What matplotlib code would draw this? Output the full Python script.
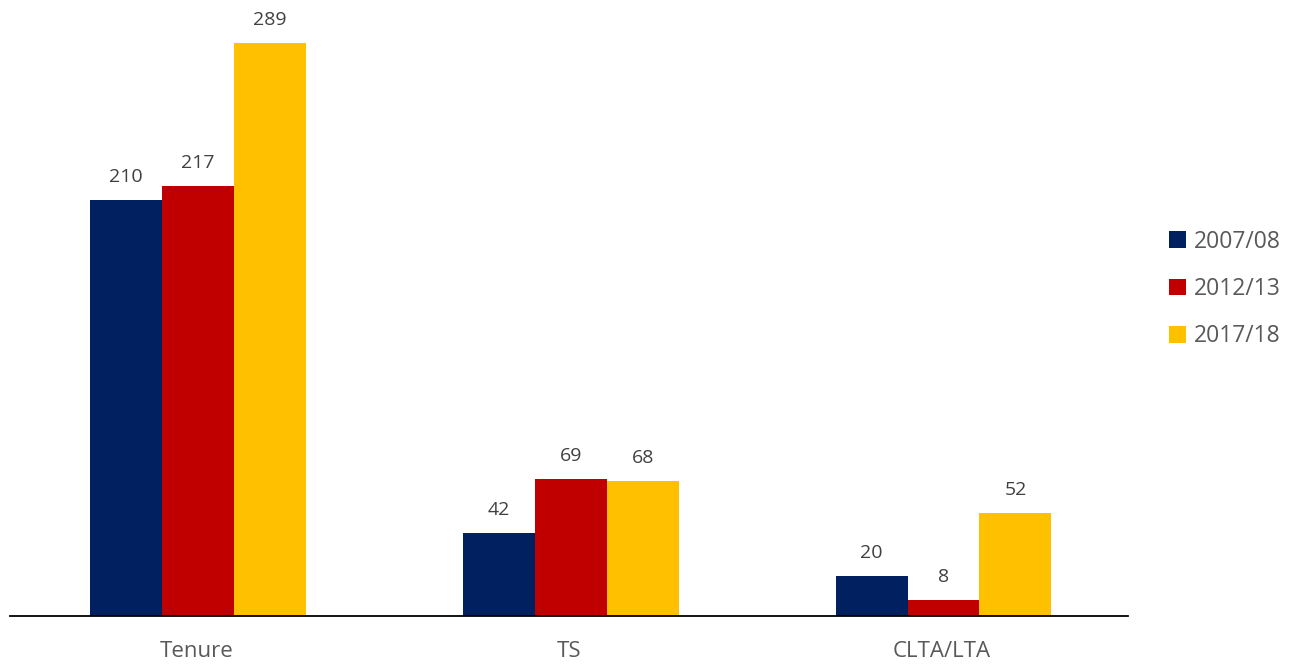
import matplotlib
matplotlib.use('Agg')
import matplotlib.pyplot as plt
import numpy as np

# データ
categories = ['Tenure', 'TS', 'CLTA/LTA']
series_names = ['2007/08', '2012/13', '2017/18']
vals_0708 = [210, 42, 20]
vals_1213 = [217, 69, 8]
vals_1718 = [289, 68, 52]
colors = ['#002060', '#C00000', '#FFC000']

plt.rcParams['font.family'] = ['Open Sans', 'DejaVu Sans']

fig = plt.figure(figsize=(12.89, 6.65), dpi=100)
ax = fig.add_axes([10 / 1289, 49 / 665, 1118 / 1289, 616 / 665])

x = np.arange(len(categories))
w = 0.193
for i, (name, vals) in enumerate(zip(series_names, [vals_0708, vals_1213, vals_1718])):
    bars = ax.bar(x + (i - 1) * w + 0.005, vals, w, color=colors[i], label=name)
    for b, v in zip(bars, vals):
        ax.text(b.get_x() + b.get_width() / 2, v + 7, str(v), ha='center', va='bottom',
                fontsize=14, color='#404040')

ax.set_xlim(-0.5, 2.5)
ax.set_ylim(0, 310.6)
ax.set_xticks(x)
ax.set_xticklabels(categories, fontsize=16, color='#595959')
ax.tick_params(axis='x', length=0, pad=18)
ax.set_yticks([])
for s in ['top', 'right', 'left']:
    ax.spines[s].set_visible(False)
ax.spines['bottom'].set_color('#000000')
ax.spines['bottom'].set_linewidth(1.3)

leg = fig.legend(loc='center left', bbox_to_anchor=(1148 / 1289, 1 - 289 / 665), frameon=False,
                 fontsize=16.5, handlelength=0.75, handleheight=0.75, handletextpad=0.35,
                 labelspacing=1.02, labelcolor='#595959')

fig.savefig('out.png', dpi=100)
